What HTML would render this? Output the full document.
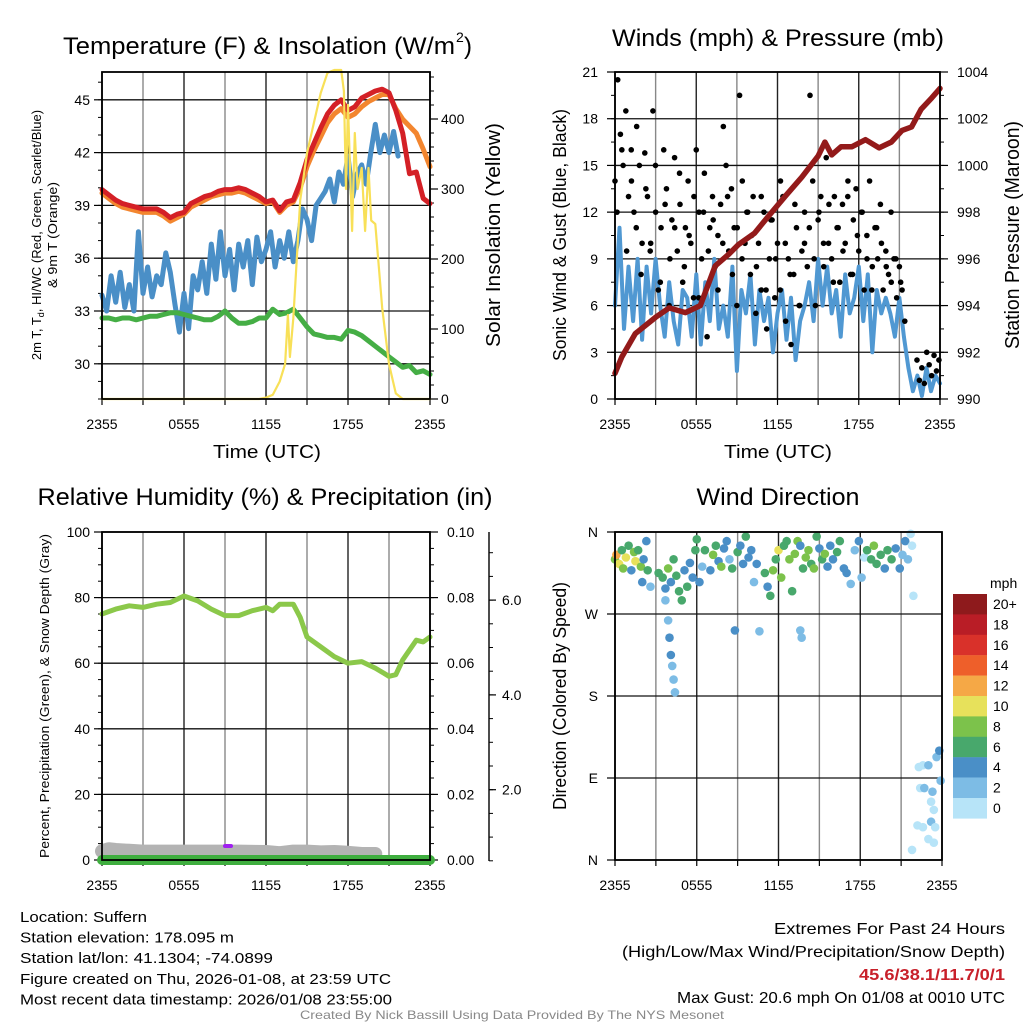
<!DOCTYPE html>
<html><head><meta charset="utf-8"><style>
html,body{margin:0;padding:0;background:#fff;width:1024px;height:1024px;overflow:hidden}
svg{display:block;font-family:"Liberation Sans",sans-serif}
</style></head><body>
<svg id="chart" width="1024" height="1024" viewBox="0 0 1024 1024" xmlns="http://www.w3.org/2000/svg"></svg>
<script>
// ---------------- DATA ----------------
const xTickLabels = ["2355","0555","1155","1755","2355"];
const temp2m = [39.9,39.6,39.3,39.1,39.0,38.9,38.8,38.8,38.8,38.6,38.3,38.5,38.6,39.1,39.3,39.5,39.6,39.8,39.9,39.9,40.0,39.9,39.7,39.5,39.2,39.3,38.7,39.2,39.3,40.3,41.6,42.5,43.4,44.2,44.7,45.0,44.4,44.6,45.1,45.3,45.5,45.6,45.4,44.4,43.1,40.8,40.9,39.4,39.1];
const temp9m = [39.7,39.4,39.1,38.9,38.8,38.7,38.6,38.6,38.6,38.4,38.1,38.3,38.5,38.9,39.1,39.3,39.5,39.6,39.7,39.7,39.8,39.7,39.5,39.3,39.1,39.2,38.6,39.0,39.2,40.0,41.2,42.1,42.9,43.7,44.2,44.5,44.0,44.2,44.6,44.9,45.1,45.3,45.3,44.5,43.9,43.5,43.1,42.2,41.2];
const dewpt = [32.6,32.6,32.5,32.6,32.6,32.5,32.6,32.7,32.7,32.8,32.9,32.9,32.8,32.7,32.6,32.5,32.5,32.7,33.0,32.6,32.3,32.3,32.4,32.6,32.6,33.1,32.8,32.9,33.1,32.6,32.1,31.7,31.6,31.5,31.5,31.4,31.9,31.8,31.6,31.3,31.0,30.7,30.4,30.1,29.8,29.9,29.5,29.6,29.4];
const windChill = [33.9,33.0,35.0,33.5,35.2,33.2,34.5,33.0,37.5,34.0,35.5,33.8,35.0,34.5,36.3,35.2,33.4,31.8,34.0,32.0,35.0,34.2,35.8,34.0,36.8,34.8,37.5,35.0,36.5,34.2,36.8,35.5,37.0,34.5,37.2,35.8,36.5,37.5,35.5,37.0,36.0,37.5,35.8,37.0,38.8,38.2,37.0,39.0,39.4,39.8,40.5,39.2,40.9,40.2,41.8,39.5,40.8,41.3,40.2,42.0,43.6,42.0,43.0,42.0,43.2,41.8];
const solarHours = [0,11.5,12.0,12.5,13.0,13.4,13.6,13.75,14.0,14.5,15.0,15.5,16.0,16.5,17.0,17.5,17.7,17.85,18.0,18.15,18.3,18.5,18.7,19.0,19.25,19.5,19.7,20.0,20.5,21.0,21.5,22.0,24];
const solarVals  = [0,0,2,6,25,50,120,60,115,284,351,394,437,466,470,470,440,300,420,330,240,380,300,330,240,330,255,250,130,50,8,0,0];
const sonicWind = [6.0,11.0,4.5,8.5,5.0,9.0,3.8,8.5,5.5,9.0,6.0,4.0,7.5,5.0,3.5,7.0,6.5,4.0,8.0,3.5,7.5,5.0,9.0,4.5,6.0,4.0,8.5,1.8,7.0,5.5,8.0,3.5,7.0,5.0,6.5,3.0,5.5,7.0,3.8,6.5,2.5,5.0,6.0,7.5,5.0,9.0,6.0,8.5,5.5,7.0,4.0,8.0,5.5,6.5,8.5,5.0,8.0,3.0,7.0,5.5,6.5,5.5,4.0,6.5,4.0,2.0,0.5,1.5,0.2,2.0,0.5,1.5,1.0];
const gustMain = [14,20.5,17,15,18.5,13,16,12,17.5,15,10,15.8,13,9.5,18.5,12,7,11,16,13.5,6,11.5,15.5,9.5,12.5,7.5,11,14,10,6.5,16,12,9,14.5,4,11,13,8.5,10.5,12.5,17.5,15,9.5,13.5,11,6,19.5,14,10,12,8,13,5.5,10,7,12,4.5,9,11.5,6.5,10,7,13,5,9,3.5,8,11,6,9.5,12,8.5,19.5,14,6,11.5,13,10,15.5,12.5,9,13,11,7.5,12.5,10,14,8,11.5,13.5,9.5,12,7,10.5,14,8.5,11,9,12.5,7,9.5,8,7.5,9,6.5,8.5,7,5];
const gustExtra = [12,16,9.5,14,11,8,13.5,10,15,7.5,12.5,9,11,14.5,8.5,10.5,13,6.5,12,9.5,11.5,7,10,13,8,11,9,12,10.5,8.5,13,7,11.5,9,14,10,8,12.5,6,10,11,9,12,8.5,10,7.5,11,9.5,13,8,10.5,12,9,7,11,10,8.5,12,9,7.5];
const gustEnd = [2.5,1.2,2.0,1.0,3.0,2.2,1.5,2.8,1.8,2.5];
const presHours = [0,0.5,1.5,3,4,5.2,6.3,7.4,8.4,9.1,10.3,11.3,12.6,13.8,15,15.5,16,16.7,17.5,18.5,19.5,20.4,21.2,21.9,22.6,23.4,24];
const presVals  = [991.1,991.8,992.8,993.5,993.9,993.7,994.0,995.7,996.2,996.6,997.1,997.8,998.7,999.5,1000.4,1001.0,1000.45,1000.8,1000.8,1001.1,1000.75,1001.0,1001.5,1001.65,1002.4,1002.9,1003.3];
const rhHours = [0,1,2,3,4,5,6,7,8,9,10,11,12,12.5,13,14,14.5,15,16,17,18,19,20,21,21.5,22,22.5,23,23.5,24];
const rhVals  = [75,76.5,77.5,77,78,78.5,80.5,79,76.5,74.5,74.5,76,77,76,78,78,74,68,65,62,60,60.5,58.5,56,56.5,61,64,67,66.5,68];
const precipVals = [0,0];
const snowHours = [0,0.5,1,2,3,6,9,10,12,13,14,15,16,17,18,19,20];
const snowVals  = [0.35,0.6,0.5,0.4,0.3,0.3,0.3,0.3,0.25,0.1,0.3,0.3,0.2,0.25,0.15,0.0,0.0];
const dirHours = [0,0.1,0.3,0.5,0.6,0.8,1,1.2,1.4,1.5,1.7,1.9,2.0,2.1,2.3,2.4,2.6,3.7,3.9,4.0,4.1,4.2,4.3,4.4,3.2,3.5,3.7,3.9,4.1,4.3,4.5,4.7,4.9,5.1,5.3,5.5,5.7,5.9,6.0,6.2,6.4,6.6,8.8,7.0,7.2,7.4,7.6,7.8,8.0,8.2,8.4,8.6,10.6,9.0,9.2,9.4,9.6,9.8,10.0,10.2,10.4,13.6,13.7,11.0,11.2,11.4,11.6,11.8,12.0,12.2,12.4,12.6,12.8,13.0,13.2,13.4,13.6,13.8,14.0,14.2,14.4,14.6,14.8,15.0,15.2,15.4,15.6,15.8,16.0,16.3,16.5,16.8,17.0,17.3,17.6,17.9,18.1,18.3,18.5,18.8,19.0,19.2,19.5,19.8,20.0,20.3,20.6,20.9,21.1,21.3,21.5,21.7,21.8,21.9,22.3,22.6,23.0,23.6,22.4,22.7,23.3,23.2,23.4,22.2,22.6,23.2,23.5,23.0,23.4,21.8,23.9,23.8];
const dirVals  = [330,335,325,340,320,332,345,318,338,328,340,322,305,330,350,318,300,285,263,244,225,213,198,184,315,310,298,320,305,330,312,295,285,318,300,326,310,340,352,305,322,340,252,318,335,345,328,322,342,350,330,320,251,338,345,325,355,332,340,305,325,252,244,315,300,290,318,330,340,310,345,350,330,295,336,350,345,320,332,340,325,320,355,342,330,336,322,345,330,338,350,320,315,303,340,350,310,332,340,330,345,325,335,320,340,330,342,320,335,350,330,358,345,290,102,104,104,113,79,79,75,64,55,38,36,42,36,23,19,11,87,120];
const dirSpeed = [8,12,10,6,9,11,7,5,9,10,7,8,4,5,4,6,3,3,3,4,4,2,2,2,6,6,4,8,5,7,6,6,6,4,7,5,4,6,6,4,3,7,4,5,8,6,4,8,5,4,3,6,3,7,5,4,6,4,4,3,4,3,3,6,5,6,8,6,10,8,6,7,8,6,8,8,4,7,8,8,6,8,6,4,6,9,5,4,4,6,6,5,4,3,2,4,3,1,7,6,8,6,7,4,6,6,4,4,3,4,2,1,1,1,1,1,2,3,1,3,2,1,1,1,1,3,1,1,1,1,3,4];
const cbLabels = ["20+","18","16","14","12","10","8","6","4","2","0"];
const cbColors = ["#8e1a1c","#b91d26","#d9312a","#ee5f2a","#f5a846","#e7e15b","#7cc24b","#48a86c","#4a8fc7","#7dbce5","#b7e4f8"];

// ---------------- HELPERS ----------------
const svg = document.getElementById('chart');
const NS = 'http://www.w3.org/2000/svg';
function mk(tag, attrs, parent){const e=document.createElementNS(NS,tag);for(const k in attrs)e.setAttribute(k,attrs[k]);(parent||svg).appendChild(e);return e;}
function txt(s, x, y, size, anchor, extra){const e=mk('text',Object.assign({x:x,y:y,'font-size':size,'text-anchor':anchor||'middle',fill:'#000'},extra||{}));e.textContent=s;return e;}
function lin(a,b,c,d,stroke,w){return mk('line',{x1:a,y1:b,x2:c,y2:d,stroke:stroke,'stroke-width':w});}
function poly(pts, color, w, name){const e=mk('polyline',{points:pts.map(p=>p[0].toFixed(1)+','+p[1].toFixed(1)).join(' '),fill:'none',stroke:color,'stroke-width':w,'stroke-linejoin':'round','stroke-linecap':'round'});
  
  
  return e;}

function makePanel(P, name){
  const g = mk('g',{});
  
  
  P.xs = h => P.x0 + h/24*(P.x1-P.x0);
  for(let i=0;i<=8;i++){
    const x=P.xs(i*3);
    const gl=lin(x,P.y0,x,P.y1,i%2? '#888':'#222',1.4);
    
    
    const tk=lin(x,P.y1,x,P.y1+6,'#000',1.2);
    
    
  }
  for(let i=0;i<5;i++){
    const t=txt(xTickLabels[i],P.xs(i*6),P.y1+30,14);
    
    
  }
  return g;
}
function frame(P){
  const r=mk('rect',{x:P.x0,y:P.y0,width:P.x1-P.x0,height:P.y1-P.y0,fill:'none',stroke:'#000','stroke-width':1.8});
  
  
}
function majorTicks(P, ys, values, labels, side, xpos, labx, anchor, grid){
  const dir = side==='left' ? -1 : 1;
  values.forEach((v,i)=>{
    const y=ys(v);
    if(grid){const gl=lin(P.x0,y,P.x1,y,'#111',1.3);
      
      }
    const t=lin(xpos,y,xpos+dir*8,y,'#000',1.2);
    
    
    const l=txt(labels[i],labx,y+5,14,anchor);
    
    
  });
}

// ---------------- PANEL 1 ----------------
const P1={x0:102,x1:430,y0:72,y1:399};
makePanel(P1,'temperature-panel');
const t1 = v => P1.y1 - (v-28)*17.6;
for(let v=28; v<=46.6; v+=1){const y=t1(v);const m=lin(P1.x0,y,P1.x0-4,y,'#000',1);
  
  }
majorTicks(P1,t1,[30,33,36,39,42,45],["30","33","36","39","42","45"],'left',P1.x0,90,'end',true);
const s1 = v => P1.y1 - v*0.7;
for(let v=0; v<=460; v+=20){const y=s1(v);const m=lin(P1.x1,y,P1.x1+4,y,'#000',1);
  
  }
majorTicks(P1,s1,[0,100,200,300,400],["0","100","200","300","400"],'right',P1.x1,441,'start',false);
poly(windChill.map((v,i)=>[P1.xs(i/3),t1(v)]),'#4a8fc7',5,'hi-wc-line');
poly(dewpt.map((v,i)=>[P1.xs(i*0.5),t1(v)]),'#45ae45',5,'dewpoint-line');
poly(temp9m.map((v,i)=>[P1.xs(i*0.5),t1(v)]),'#f3862f',5,'temp-9m-line');
poly(temp2m.map((v,i)=>[P1.xs(i*0.5),t1(v)]),'#d42026',5,'temp-2m-line');
poly(solarVals.map((v,i)=>[P1.xs(solarHours[i]),s1(v)]),'#f8e058',2.2,'solar-line');
frame(P1);

// ---------------- PANEL 2 ----------------
const P2={x0:615,x1:940,y0:72,y1:399};
makePanel(P2,'winds-panel');
const w2 = v => P2.y1 - v*(P2.y1-P2.y0)/21;
for(let v=0; v<=21; v+=1.5){const y=w2(v);const m=lin(P2.x0,y,P2.x0-4,y,'#000',1);
  
  }
majorTicks(P2,w2,[0,3,6,9,12,15,18,21],["0","3","6","9","12","15","18","21"],'left',P2.x0,598,'end',true);
const p2 = v => P2.y1 - (v-990)*(P2.y1-P2.y0)/14;
for(let v=990; v<=1004; v+=1){const y=p2(v);const m=lin(P2.x1,y,P2.x1+4,y,'#000',1);
  
  }
majorTicks(P2,p2,[990,992,994,996,998,1000,1002,1004],["990","992","994","996","998","1000","1002","1004"],'right',P2.x1,957,'start',false);
poly(sonicWind.map((v,i)=>[P2.xs(i/3),w2(v)]),'#5098d2',4,'sonic-wind-line');
gustMain.forEach((v,i)=>{
  const c=mk('circle',{cx:P2.xs(i*0.2),cy:w2(v),r:2.8,fill:'#000'});
  
  
});
gustExtra.forEach((v,i)=>{
  const c=mk('circle',{cx:P2.xs(0.15+i*0.355),cy:w2(v),r:2.8,fill:'#000'});
  
  
});
gustEnd.forEach((v,i)=>{
  const c=mk('circle',{cx:P2.xs(22.3+i*0.18),cy:w2(v),r:2.8,fill:'#000'});
  
  
});
poly(presVals.map((v,i)=>[P2.xs(presHours[i]),p2(v)]),'#931a1a',5.5,'pressure-line');
frame(P2);

// ---------------- PANEL 3 ----------------
const P3={x0:102,x1:430,y0:532,y1:860};
makePanel(P3,'humidity-panel');
const r3 = v => P3.y1 - v*3.28;
for(let v=0; v<=100; v+=5){const y=r3(v);const m=lin(P3.x0,y,P3.x0-4,y,'#000',1);
  
  }
majorTicks(P3,r3,[0,20,40,60,80,100],["0","20","40","60","80","100"],'left',P3.x0,90,'end',true);
const q3 = v => P3.y1 - v*3280;
for(let v=0; v<=0.1001; v+=0.005){const y=q3(v);const m=lin(P3.x1,y,P3.x1+4,y,'#000',1);
  
  }
majorTicks(P3,q3,[0,0.02,0.04,0.06,0.08,0.1],["0.00","0.02","0.04","0.06","0.08","0.10"],'right',P3.x1,447,'start',false);
const snowAx=lin(489,532,489,861,'#000',1.4);


const sd = v => 884.5 - v*47.4;
for(let v=0.5; v<=7; v+=0.5){const y=sd(v);if(y<532||y>861)continue;const m=lin(489,y,493,y,'#000',1);
  
  }
[[2,"2.0"],[4,"4.0"],[6,"6.0"]].forEach(a=>{
  const t=lin(489,sd(a[0]),496,sd(a[0]),'#000',1.2);
  
  
  const l=txt(a[1],502,sd(a[0])+5,14,'start');
  
  
});
poly(snowVals.map((v,i)=>[P3.xs(snowHours[i]),r3(0)-6-v*8]),'#b3b3b3',14,'snow-depth-line');
const pm=mk('line',{x1:225,y1:846,x2:231,y2:846,stroke:'#a020f0','stroke-width':4,'stroke-linecap':'round'});


poly(precipVals.map((v,i)=>[P3.xs(i*24),q3(v)]),'#3fae3f',10,'precip-line');
poly(rhVals.map((v,i)=>[P3.xs(rhHours[i]),r3(v)]),'#8bc84a',5,'rh-line');
frame(P3);

// ---------------- PANEL 4 ----------------
const P4={x0:615,x1:942,y0:532,y1:860};
makePanel(P4,'wind-direction-panel');
const d4 = v => P4.y1 - v*(P4.y1-P4.y0)/360;
majorTicks(P4,d4,[0,90,180,270,360],["N","E","S","W","N"],'left',P4.x0,598,'end',true);
function spdColor(s){const idx=Math.min(10,Math.floor(s/2));return cbColors[10-idx];}
dirVals.forEach((v,i)=>{
  const c=mk('circle',{cx:P4.xs(dirHours[i]),cy:d4(v),r:4.3,fill:spdColor(dirSpeed[i])});
  
  
});
frame(P4);
cbColors.forEach((c,i)=>{
  const r=mk('rect',{x:953,y:594+i*20.4,width:34,height:20.6,fill:c});
  
  
  const l=txt(cbLabels[i],993,594+i*20.4+15,14,'start');
  
  
});
const mph=txt('mph',990,588,14,'start');



// ---------------- TITLES / LABELS ----------------
function label(s,x,y,size,name,rot,len,anchor,fill,weight){
  const attrs={};
  if(rot) attrs.transform='rotate(-90 '+x+' '+y+')';
  if(len){attrs.textLength=len;attrs.lengthAdjust='spacingAndGlyphs';}
  if(fill) attrs.fill=fill;
  if(weight) attrs['font-weight']=weight;
  const t=txt(s,x,y,size,anchor||'middle',attrs);
  
  
  return t;
}
label('Temperature (F) & Insolation (W/m',63,54,24,'temperature-title',false,392,'start');
label('2',456,42,14,'temperature-title-superscript',false,null,'start');
label(')',464,54,24,'temperature-title-close',false,null,'start');
label('Winds (mph) & Pressure (mb)',778,46,24,'winds-title',false,332);
label('Relative Humidity (%) & Precipitation (in)',265,505,24,'humidity-title',false,455);
label('Wind Direction',778,505,24,'direction-title',false,163);
label('Time (UTC)',267,458,18,'temp-x-axis-title',false,108);
label('Time (UTC)',778,458,18,'winds-x-axis-title',false,108);
// rotated y title with subscript
const yt=mk('text',{x:41,y:235,'font-size':13,'text-anchor':'middle',fill:'#000',transform:'rotate(-90 41 235)'});


const ya=mk('tspan',{},yt);ya.textContent='2m T, T';
const yb=mk('tspan',{'font-size':9,dy:3},yt);yb.textContent='d';
const yc=mk('tspan',{dy:-3},yt);yc.textContent=', HI/WC (Red, Green, Scarlet/Blue)';
label('& 9m T (Orange)',57,235,13,'temp-y-axis-title-line2',true,106);
label('Solar Insolation (Yellow)',500,235,20,'solar-y-axis-title',true,224);
label('Sonic Wind & Gust (Blue, Black)',566,235,18,'wind-y-axis-title',true,252);
label('Station Pressure (Maroon)',1019,235,20,'pressure-y-axis-title',true,228);
label('Percent, Precipitation (Green), & Snow Depth (Gray)',49,696,13,'humidity-y-axis-title',true,324);
label('Direction (Colored By Speed)',566,696,18,'direction-y-axis-title',true,228);
const foot=['Location: Suffern','Station elevation: 178.095 m','Station lat/lon: 41.1304; -74.0899','Figure created on Thu, 2026-01-08, at 23:59 UTC','Most recent data timestamp: 2026/01/08 23:55:00'];
const footLen=[127,214,253,371,372];
foot.forEach((s,i)=>label(s,20,922+i*20.6,15,'station-info-line',false,footLen[i],'start'));
label('Extremes For Past 24 Hours',1005,934,16,'extremes-title',false,231,'end');
label('(High/Low/Max Wind/Precipitation/Snow Depth)',1005,957,16,'extremes-subtitle',false,383,'end');
label('45.6/38.1/11.7/0/1',1005,980,16,'extremes-values',false,146,'end','#c8202a','bold');
label('Max Gust: 20.6 mph On 01/08 at 0010 UTC',1005,1003,16,'max-gust-text',false,328,'end');
label('Created By Nick Bassill Using Data Provided By The NYS Mesonet',512,1019,12,'credit-text',false,424,'middle','#888');
</script>
</body></html>
